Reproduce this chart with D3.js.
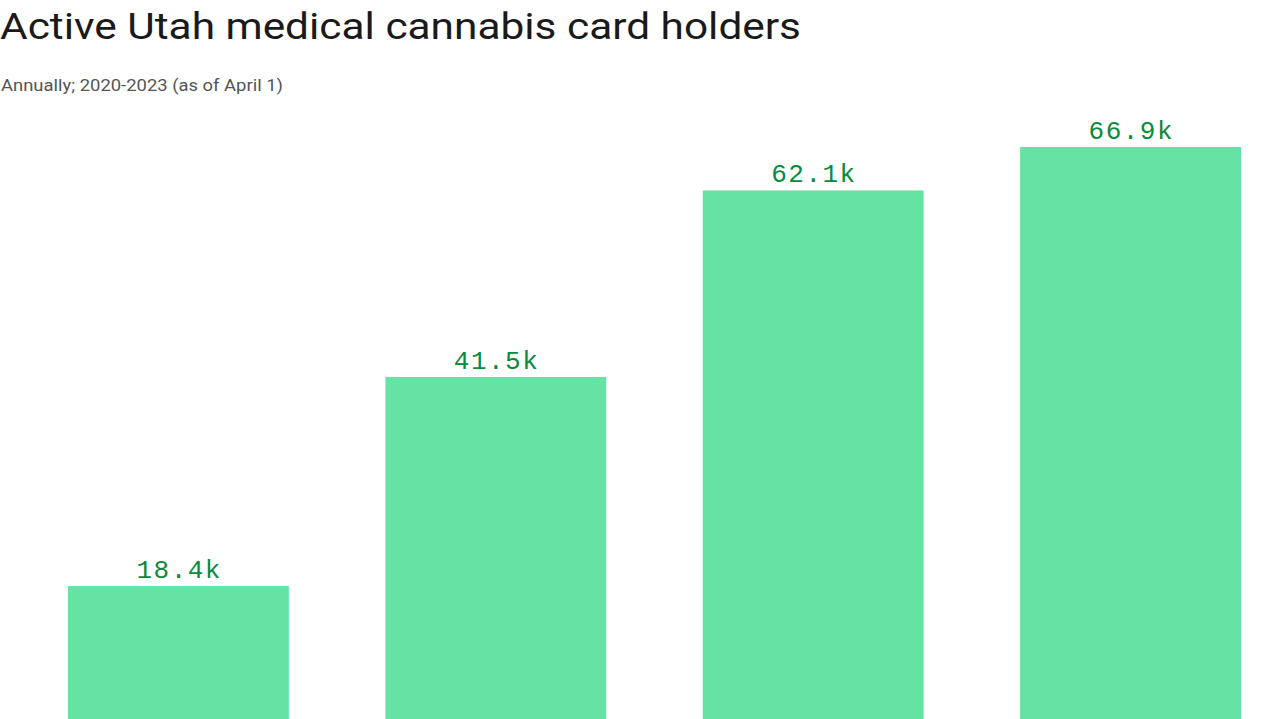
<!DOCTYPE html>
<html><head><meta charset="utf-8">
<script src="https://cdn.jsdelivr.net/npm/d3@7"></script>
<style>
html,body{margin:0;padding:0;background:#fff;overflow:hidden;}
</style></head>
<body>
<svg id="chart" width="1280" height="719"></svg>
<script>
const years = ["2020", "2021", "2022", "2023"];
const cardHolders = [18.4, 41.5, 62.1, 66.9];
const valueLabels = ["18.4k", "41.5k", "62.1k", "66.9k"];
const titleText = "Active Utah medical cannabis card holders";
const subtitleText = "Annually; 2020-2023 (as of April 1)";

const svg = d3.select("#chart");

svg.append("text").attr("x", 0).attr("y", 39)
  .attr("font-family", "Roboto, 'Liberation Sans', sans-serif")
  .attr("font-size", 37).attr("fill", "#1a1a1a").attr("textLength", 801).attr("lengthAdjust","spacingAndGlyphs")
  .text(titleText);
svg.append("text").attr("x", 1).attr("y", 91)
  .attr("font-family", "Roboto, 'Liberation Sans', sans-serif")
  .attr("font-size", 17).attr("fill", "#555").attr("textLength", 282).attr("lengthAdjust","spacingAndGlyphs")
  .text(subtitleText);

const x = d3.scaleBand().domain(years).range([68, 1241]).paddingInner(0.304).paddingOuter(0);
const y = d3.scaleLinear().domain([0, 66.9]).range([752.6, 147]);

const g = svg.append("g");
g.selectAll("rect").data(years).join("rect")
  .attr("x", d => x(d)).attr("width", x.bandwidth())
  .attr("y", (d,i) => y(cardHolders[i]))
  .attr("height", (d,i) => y(0) - y(cardHolders[i]))
  .attr("fill", "#67e2a5");

g.selectAll("text.lbl").data(years).join("text").attr("class","lbl")
  .attr("x", d => x(d) + x.bandwidth()/2 + 0.75)
  .attr("y", (d,i) => y(cardHolders[i]) - 8)
  .attr("text-anchor", "middle")
  .attr("font-family", "'Liberation Mono', 'DejaVu Sans Mono', monospace")
  .attr("font-size", 26).attr("letter-spacing", 1.5).attr("fill", "#0a8a3c")
  .text((d,i) => valueLabels[i]);
</script>
</body></html>
